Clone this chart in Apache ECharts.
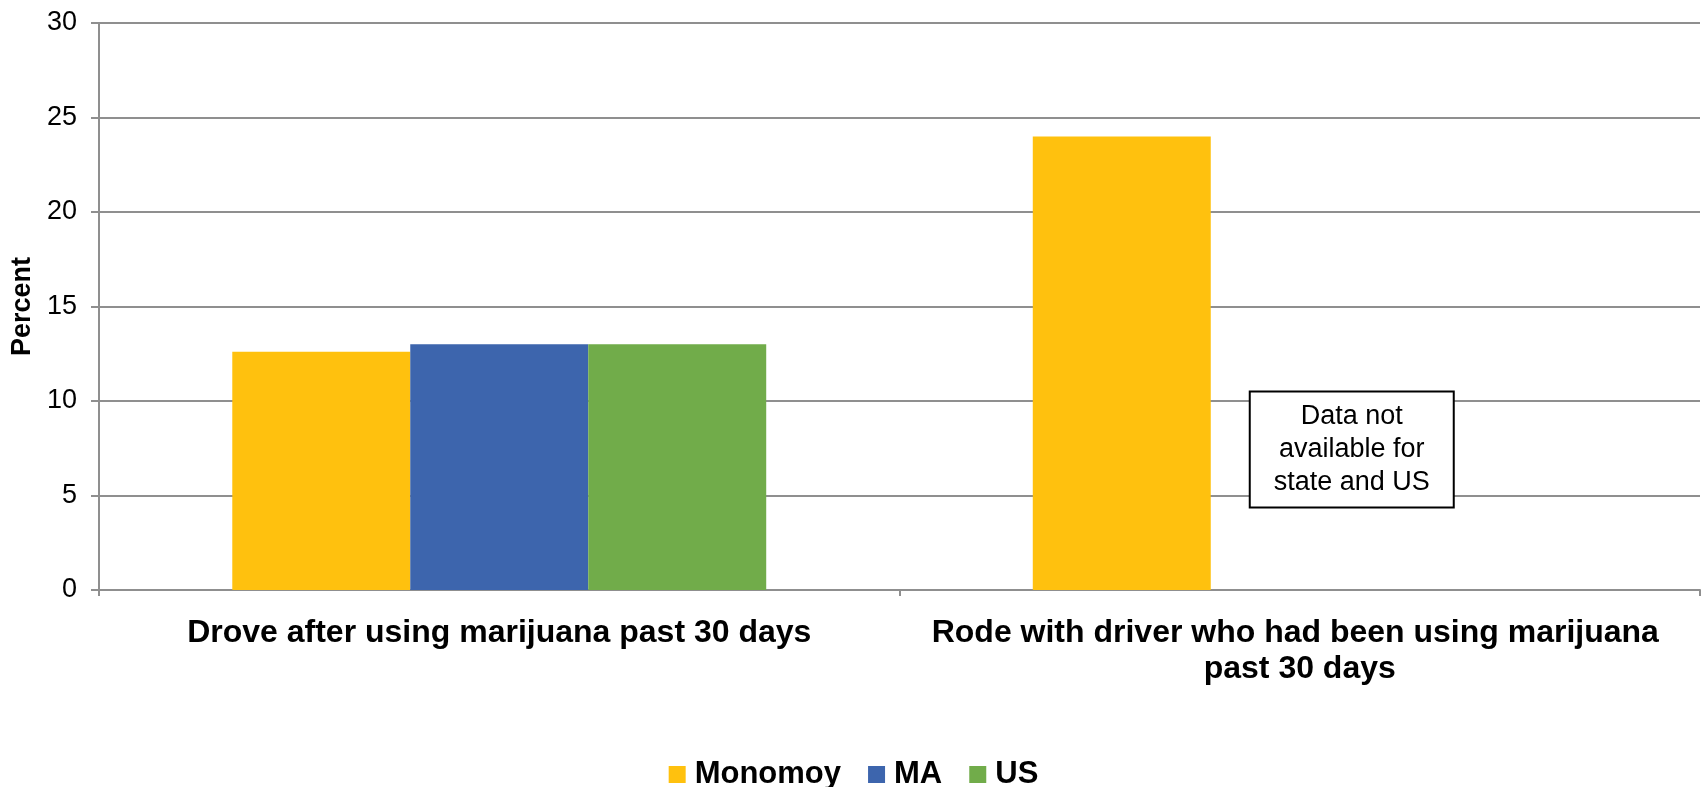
<!DOCTYPE html>
<html>
<head>
<meta charset="utf-8">
<script src="https://cdn.jsdelivr.net/npm/echarts@6/dist/echarts.min.js"></script>
<style>
html,body{margin:0;padding:0;background:#fff;}
#c{width:1707px;height:787px;}
</style>
</head>
<body>
<div id="c"></div>
<script>
var categories = ['Drove after using marijuana past 30 days', 'Rode with driver who had been using marijuana past 30 days'];
var seriesNames = ['Monomoy', 'MA', 'US'];
var monomoy = [12.6, 24.0];
var ma = [13.0, null];
var us = [13.0, null];
var yTicks = {min: 0, max: 30, interval: 5};
var noteText = 'Data not\navailable for\nstate and US';
var noteValue = 7.43;

var colors = ['#FFC10E', '#3D65AD', '#71AC4A'];
var axisGray = '#8f8f8f';
var FONT = '"Liberation Sans", Arial, sans-serif';

var chart = echarts.init(document.getElementById('c'), null, {renderer: 'canvas'});
var option = {
  animation: false,
  color: colors,
  textStyle: {fontFamily: FONT},
  grid: {left: 99, right: 7, top: 23, bottom: 197, containLabel: false},
  legend: {
    data: seriesNames,
    left: 'center',
    top: 754,
    itemWidth: 17,
    itemHeight: 17,
    itemGap: 27,
    icon: 'rect',
    textStyle: {fontFamily: FONT, fontSize: 31, fontWeight: 'bold', color: '#000', padding: [0, 0, 0, 4]}
  },
  xAxis: {
    type: 'category',
    data: categories,
    axisLine: {lineStyle: {color: axisGray, width: 2}},
    axisTick: {show: true, length: 6, lineStyle: {color: axisGray, width: 2}},
    axisLabel: {
      interval: 0,
      color: '#000', fontFamily: FONT, fontSize: 32, fontWeight: 'bold',
      margin: 25, width: 760, overflow: 'break', lineHeight: 36, align: 'center'
    }
  },
  yAxis: {
    type: 'value',
    min: yTicks.min, max: yTicks.max, interval: yTicks.interval,
    name: 'Percent',
    nameLocation: 'middle',
    nameRotate: 90,
    nameGap: 63,
    nameTextStyle: {fontFamily: FONT, fontSize: 27, fontWeight: 'bold', color: '#000'},
    axisLine: {show: true, lineStyle: {color: axisGray, width: 2}},
    axisTick: {show: true, length: 8, lineStyle: {color: axisGray, width: 2}},
    axisLabel: {color: '#000', fontFamily: FONT, fontSize: 27, margin: 22},
    splitLine: {show: true, lineStyle: {color: axisGray, width: 2}}
  },
  series: [
    {name: seriesNames[0], type: 'bar', data: monomoy, barGap: '0%', barCategoryGap: '33.3%', itemStyle: {color: colors[0]}},
    {name: seriesNames[1], type: 'bar', data: ma, barGap: '0%', barCategoryGap: '33.3%', itemStyle: {color: colors[1]}},
    {name: seriesNames[2], type: 'bar', data: us, barGap: '0%', barCategoryGap: '33.3%', itemStyle: {color: colors[2]}}
  ]
};
chart.setOption(option);

// annotation box placed through the chart's own scales
var p = chart.convertToPixel({xAxisIndex: 0, yAxisIndex: 0}, [1, noteValue]);
var boxW = 204, boxH = 116;
chart.setOption({
  graphic: [{
    type: 'group',
    x: p[0] + 52,
    y: p[1],
    children: [
      {type: 'rect', shape: {x: -boxW / 2, y: -boxH / 2, width: boxW, height: boxH},
       style: {fill: '#fff', stroke: '#000', lineWidth: 2}},
      {type: 'text', x: 0, y: 0,
       style: {text: noteText, fill: '#000', font: '27px ' + FONT, align: 'center', verticalAlign: 'middle', lineHeight: 33}}
    ]
  }]
});
</script>
</body>
</html>
